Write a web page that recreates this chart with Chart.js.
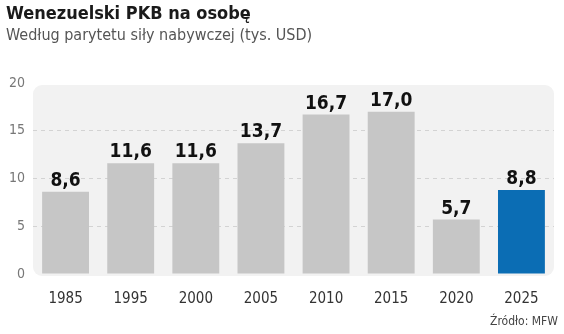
<!DOCTYPE html>
<html><head><meta charset="utf-8">
<script src="https://cdn.jsdelivr.net/npm/chart.js@4"></script>
<style>
html,body{margin:0;padding:0;background:#fff;}
#wrap{position:relative;width:564px;height:334px;overflow:hidden;}
canvas{position:absolute;left:0;top:0;}
.t{position:absolute;white-space:nowrap;font-family:'Liberation Sans Narrow','DejaVu Sans Condensed','Roboto Condensed',sans-serif;}
#title{left:6px;top:2px;font-size:18px;font-weight:bold;color:#1a1a1a;}
#sub{left:6px;top:25px;font-size:16px;color:#555;}
#src{right:6px;top:314px;font-size:12px;color:#444;}
</style></head>
<body><div id="wrap">
<canvas id="c" width="564" height="334"></canvas>
<div class="t" id="title">Wenezuelski PKB na osobę</div>
<div class="t" id="sub">Według parytetu siły nabywczej (tys. USD)</div>
<div class="t" id="src">Źródło: MFW</div>
</div>
<script>
const categories = ['1985','1995','2000','2005','2010','2015','2020','2025'];
const values = [8.6, 11.6, 11.6, 13.7, 16.7, 17.0, 5.7, 8.8];
const labels = ['8,6','11,6','11,6','13,7','16,7','17,0','5,7','8,8'];
const yTicks = [0, 5, 10, 15, 20];
const FONT = "'Liberation Sans Narrow','DejaVu Sans Condensed','Roboto Condensed',sans-serif";
const barColors = values.map((v,i)=> i===values.length-1 ? '#0b6db4' : '#c6c6c6');

const panel = {
  id:'panel',
  beforeDraw(chart){
    const {ctx, chartArea:a} = chart;
    ctx.save();
    ctx.fillStyle = '#f2f2f2';
    ctx.beginPath();
    ctx.roundRect(a.left, a.top+2, a.right-a.left, a.bottom-a.top, 9);
    ctx.fill();
    ctx.restore();
  }
};
const valueLabels = {
  id:'valueLabels',
  afterDatasetsDraw(chart){
    const {ctx} = chart;
    const meta = chart.getDatasetMeta(0);
    ctx.save();
    ctx.font = "bold 19px " + FONT;
    ctx.fillStyle = '#111';
    ctx.textAlign = 'center';
    ctx.textBaseline = 'alphabetic';
    meta.data.forEach((bar,i)=>{
      ctx.fillText(labels[i], bar.x, bar.y - 6);
    });
    ctx.restore();
  }
};

new Chart(document.getElementById('c'), {
  type:'bar',
  data:{ labels: categories, datasets:[{ data: values, backgroundColor: barColors, borderWidth:0, barPercentage:0.72, categoryPercentage:1 }]},
  options:{
    responsive:false, animation:false,
    layout:{ padding:{ top:83, right:10, bottom:0, left:0 } },
    plugins:{ legend:{display:false}, tooltip:{enabled:false} },
    scales:{
      x:{
        grid:{display:false, drawTicks:false},
        border:{display:false},
        ticks:{ color:'#333', font:{family:FONT, size:15}, padding:16 },
        afterFit(s){ s.height = 60; }
      },
      y:{
        min:0, max:20,
        afterBuildTicks(s){ s.ticks = yTicks.map(v=>({value:v})); },
        grid:{ drawTicks:false, color:(c)=> (c.tick && c.tick.value>0 && c.tick.value<20) ? '#d3d3d3' : 'rgba(0,0,0,0)', lineWidth:1 },
        border:{display:false, dash:[4,4]},
        ticks:{ color:'#777', font:{family:FONT, size:14}, padding:8 },
        afterFit(s){ s.width = 33; }
      }
    }
  },
  plugins:[panel, valueLabels]
});
</script>
</body></html>
